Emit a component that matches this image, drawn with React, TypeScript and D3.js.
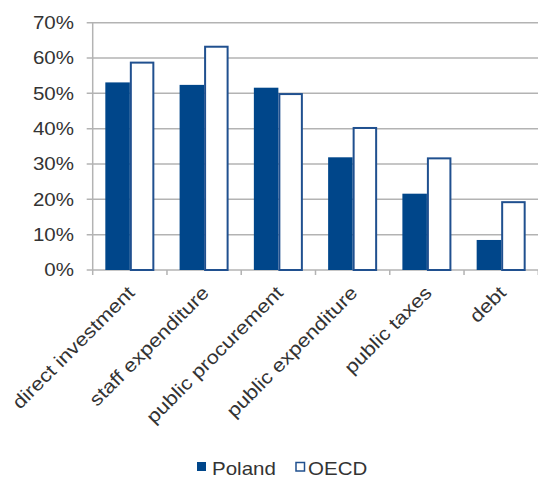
import React from "react";
import * as d3 from "d3";

// Share of responses per area, Poland vs OECD average
const categories = [
  "direct investment",
  "staff expenditure",
  "public procurement",
  "public expenditure",
  "public taxes",
  "debt",
];
const series = ["Poland", "OECD"];
const poland = [0.531, 0.524, 0.516, 0.319, 0.216, 0.085];
const oecd = [0.587, 0.632, 0.498, 0.402, 0.316, 0.192];
const yTicks = [0, 0.1, 0.2, 0.3, 0.4, 0.5, 0.6, 0.7];

const W = 538;
const H = 478;
const left = 92.7;
const right = 538.3;
const top = 22.7;
const bottom = 270;

const BLUE = "#00468a";
const OUTLINE = "#20508f";
const GRID = "#b3b3b3";
const TEXT = "#333333";
const FONT = "'Liberation Sans', Arial, Helvetica, sans-serif";
const FS = 17.7;
const FS_CAT = 18.7;
const SX = 1.16;

export default function App() {
  const x0 = d3
    .scaleBand<string>()
    .domain(categories)
    .range([left, right])
    .paddingInner(0.34)
    .paddingOuter(0.17);
  const x1 = d3.scaleBand<string>().domain(series).range([0, x0.bandwidth()]);
  const y = d3.scaleLinear().domain([0, 0.7]).range([bottom, top]);
  const fmt = d3.format(".0%");
  const step = x0.step();
  const boundaries = d3.range(categories.length + 1).map((i) => left + i * step);

  return (
    <svg
      width={W}
      height={H}
      style={{ position: "absolute", left: 0, top: 0, background: "#fff" }}
      fontFamily={FONT}
    >
      {/* horizontal gridlines with small ticks left of the axis */}
      {yTicks.map((t) => (
        <line
          key={"g" + t}
          x1={left - 6}
          x2={right}
          y1={y(t)}
          y2={y(t)}
          stroke={GRID}
          strokeWidth={1.5}
        />
      ))}
      {/* y axis */}
      <line x1={left} x2={left} y1={top} y2={bottom} stroke={GRID} strokeWidth={1.5} />
      {/* category tick marks below the base line */}
      {boundaries.map((bx, i) => (
        <line
          key={"t" + i}
          x1={bx}
          x2={bx}
          y1={bottom}
          y2={bottom + 5}
          stroke={GRID}
          strokeWidth={1.5}
        />
      ))}

      {/* bars */}
      {categories.map((c, i) => {
        const gx = x0(c)!;
        const bw = x1.bandwidth();
        return (
          <g key={c}>
            <rect
              x={gx + x1("Poland")!}
              y={y(poland[i])}
              width={bw}
              height={bottom - y(poland[i])}
              fill={BLUE}
            />
            <rect
              x={gx + x1("OECD")! + 1}
              y={y(oecd[i])}
              width={bw - 2}
              height={bottom - y(oecd[i])}
              fill="#fff"
              stroke={OUTLINE}
              strokeWidth={2}
            />
          </g>
        );
      })}

      {/* y tick labels */}
      {yTicks.map((t) => (
        <text
          key={"l" + t}
          transform={`translate(74,${y(t) + 6.4}) scale(${SX},1)`}
          textAnchor="end"
          fontSize={FS}
          fill={TEXT}
        >
          {fmt(t)}
        </text>
      ))}

      {/* rotated category labels */}
      {categories.map((c) => {
        const cx = x0(c)! + x0.bandwidth() / 2;
        return (
          <text
            key={"c" + c}
            transform={`translate(${cx + 6},${bottom + 24}) rotate(-45) scale(${SX},1)`}
            textAnchor="end"
            fontSize={FS_CAT}
            fill={TEXT}
          >
            {c}
          </text>
        );
      })}

      {/* legend */}
      <rect x={197} y={462} width={9} height={9} fill={BLUE} />
      <text
        transform={`translate(212,475) scale(${SX},1)`}
        fontSize={FS}
        fill={TEXT}
      >
        Poland
      </text>
      <rect
        x={296}
        y={462.5}
        width={8.5}
        height={8.5}
        fill="#fff"
        stroke={OUTLINE}
        strokeWidth={1.5}
      />
      <text
        transform={`translate(308,475) scale(${SX},1)`}
        fontSize={FS}
        fill={TEXT}
      >
        OECD
      </text>
    </svg>
  );
}
